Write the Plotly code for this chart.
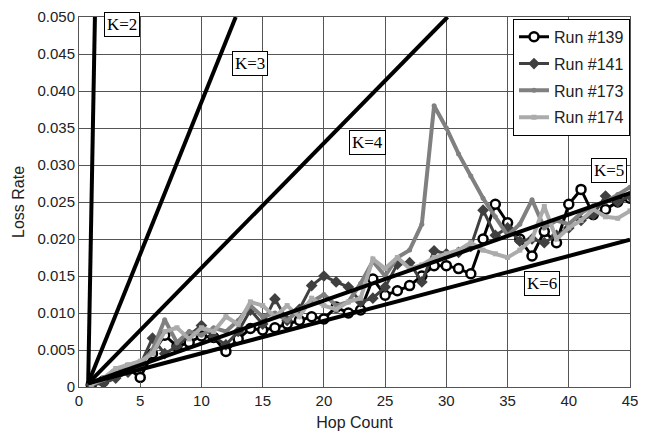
import plotly.graph_objects as go

hops = list(range(1, 46))

run139 = [0.0003, 0.0008, 0.0018, 0.0025, 0.0013, 0.0045, 0.0070, 0.0055, 0.0060, 0.0069,
          0.0067, 0.0048, 0.0065, 0.0079, 0.0077, 0.0080, 0.0085, 0.0090, 0.0095, 0.0092,
          0.0108, 0.0100, 0.0104, 0.0146, 0.0124, 0.0130, 0.0137, 0.0150, 0.0164, 0.0164,
          0.0160, 0.0153, 0.0200, 0.0247, 0.0222, 0.0200, 0.0177, 0.0210, 0.0195, 0.0247,
          0.0267, 0.0233, 0.0240, 0.0250, 0.0255]
run141 = [0.0003, 0.0005, 0.0012, 0.0020, 0.0030, 0.0066, 0.0045, 0.0055, 0.0070, 0.0083,
          0.0068, 0.0057, 0.0075, 0.0104, 0.0085, 0.0119, 0.0090, 0.0105, 0.0137, 0.0150,
          0.0142, 0.0135, 0.0115, 0.0120, 0.0135, 0.0166, 0.0168, 0.0142, 0.0184, 0.0180,
          0.0182, 0.0190, 0.0239, 0.0205, 0.0215, 0.0197, 0.0200, 0.0195, 0.0205, 0.0215,
          0.0225, 0.0233, 0.0258, 0.0250, 0.0258]
run173 = [0.0003, 0.0010, 0.0020, 0.0025, 0.0030, 0.0050, 0.0091, 0.0060, 0.0075, 0.0070,
          0.0080, 0.0075, 0.0090, 0.0110, 0.0095, 0.0100, 0.0090, 0.0105, 0.0115, 0.0125,
          0.0110, 0.0115, 0.0140, 0.0170, 0.0150, 0.0175, 0.0185, 0.0220, 0.0380, 0.0350,
          0.0315, 0.0285, 0.0255, 0.0230, 0.0205, 0.0220, 0.0253, 0.0215, 0.0225, 0.0220,
          0.0235, 0.0245, 0.0250, 0.0260, 0.0270]
run174 = [0.0003, 0.0012, 0.0025, 0.0030, 0.0035, 0.0045, 0.0075, 0.0080, 0.0065, 0.0080,
          0.0075, 0.0095, 0.0085, 0.0115, 0.0110, 0.0095, 0.0110, 0.0095, 0.0120, 0.0110,
          0.0105, 0.0115, 0.0120, 0.0173, 0.0160, 0.0175, 0.0160, 0.0165, 0.0175, 0.0180,
          0.0185, 0.0195, 0.0185, 0.0180, 0.0175, 0.0185, 0.0200, 0.0244, 0.0200, 0.0215,
          0.0225, 0.0240, 0.0230, 0.0228, 0.0238]

run_names = ["Run #139", "Run #141", "Run #173", "Run #174"]

# K reference lines: start and end points (hop, loss rate)
k_labels = ["K=2", "K=3", "K=4", "K=5", "K=6"]
k_x0 = [0.75, 0.75, 0.75, 0.75, 0.75]
k_y0 = [0.0005, 0.0005, 0.0005, 0.0005, 0.0005]
k_x1 = [1.3, 12.8, 30.1, 45.0, 45.0]
k_y1 = [0.050, 0.050, 0.050, 0.0262, 0.0199]
k_lab_x = [3.5, 14.0, 23.6, 43.3, 37.85]
k_lab_y = [0.0490, 0.0437, 0.0331, 0.0293, 0.01405]

x_ticks = [0, 5, 10, 15, 20, 25, 30, 35, 40, 45]
y_ticks = [0, 0.005, 0.010, 0.015, 0.020, 0.025, 0.030, 0.035, 0.040, 0.045, 0.050]
y_tick_text = ["0", "0.005", "0.010", "0.015", "0.020", "0.025", "0.030", "0.035", "0.040", "0.045", "0.050"]

fig = go.Figure()

fig.add_trace(go.Scatter(x=hops, y=run139, name=run_names[0], mode="lines+markers",
                         legendgroup="a",
                         line=dict(color="#000000", width=3),
                         marker=dict(symbol="circle", size=9, color="white",
                                     line=dict(color="#000000", width=2.5))))
fig.add_trace(go.Scatter(x=hops, y=run141, name=run_names[1], mode="lines+markers",
                         legendgroup="b",
                         line=dict(color="#404040", width=3),
                         marker=dict(symbol="diamond", size=9, color="#404040")))
fig.add_trace(go.Scatter(x=hops, y=run173, name=run_names[2], mode="lines+markers",
                         legendgroup="c",
                         line=dict(color="#808080", width=4),
                         marker=dict(symbol="circle", size=5, color="#808080")))
fig.add_trace(go.Scatter(x=hops, y=run174, name=run_names[3], mode="lines+markers",
                         legendgroup="d",
                         line=dict(color="#ababab", width=4),
                         marker=dict(symbol="square", size=5, color="#ababab")))

for i in range(len(k_labels)):
    fig.add_trace(go.Scatter(x=[k_x0[i], k_x1[i]], y=[k_y0[i], k_y1[i]], mode="lines",
                             line=dict(color="#000000", width=4), showlegend=False,
                             hoverinfo="skip"))
    fig.add_annotation(x=k_lab_x[i], y=k_lab_y[i], text=k_labels[i], showarrow=False,
                       font=dict(family="Liberation Serif", size=17, color="#000000"),
                       bgcolor="white", bordercolor="#000000", borderwidth=1, borderpad=2)

fig.update_layout(
    width=646, height=437,
    margin=dict(l=79, r=8, t=14, b=50),
    paper_bgcolor="white", plot_bgcolor="white",
    font=dict(family="Liberation Sans", size=15, color="#222222"),
    showlegend=True,
    legend=dict(x=1.0, y=0.995, xanchor="right", yanchor="top",
                bgcolor="white", bordercolor="#000000", borderwidth=1,
                font=dict(family="Liberation Sans", size=16, color="#222222"),
                tracegroupgap=3),
)
fig.update_xaxes(range=[0, 45], tickvals=x_ticks, showgrid=True, gridcolor="#555555", gridwidth=1,
                 zeroline=False, showline=True, linecolor="#555555", mirror=True,
                 ticks="inside", ticklen=5, tickcolor="#555555",
                 title=dict(text="Hop Count", standoff=8, font=dict(size=16)))
fig.update_yaxes(range=[0, 0.05], tickvals=y_ticks, ticktext=y_tick_text, showgrid=True,
                 gridcolor="#555555", gridwidth=1, zeroline=False, showline=True,
                 linecolor="#555555", mirror=True, ticks="inside", ticklen=5, tickcolor="#555555",
                 title=dict(text="Loss Rate", standoff=8, font=dict(size=16)))

fig.write_html("out.html")
